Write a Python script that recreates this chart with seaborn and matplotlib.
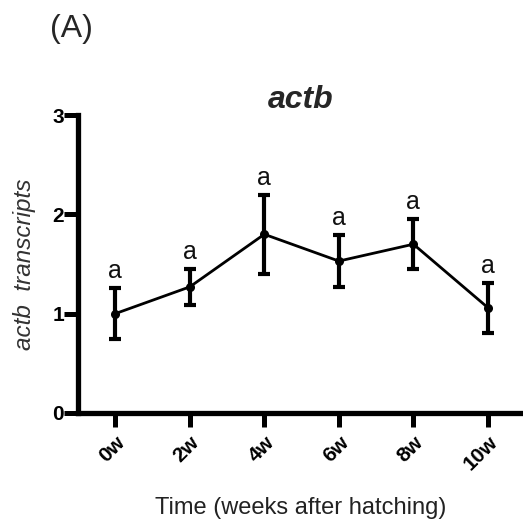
import matplotlib
matplotlib.use("Agg")
import matplotlib.pyplot as plt
import seaborn as sns
import pandas as pd

weeks = ["0w", "2w", "4w", "6w", "8w", "10w"]
means = [1.00, 1.27, 1.80, 1.53, 1.70, 1.06]
errors = [0.26, 0.18, 0.40, 0.26, 0.25, 0.25]
letters = ["a", "a", "a", "a", "a", "a"]
yticks = [0, 1, 2, 3]

sns.set_theme(style="ticks")
plt.rcParams['font.family'] = ['Liberation Sans', 'DejaVu Sans']

df = pd.DataFrame({"week": weeks, "mean": means, "err": errors})

fig = plt.figure(figsize=(5.23, 5.26), dpi=100)
ax = fig.add_axes([0.149, 0.215, 0.851, 0.566])

sns.pointplot(data=df, x="week", y="mean", color="black", errorbar=None,
              markers="o", markersize=5, linewidth=2.0, ax=ax)
ax.errorbar(range(len(weeks)), df["mean"], yerr=df["err"], fmt="none",
            ecolor="black", elinewidth=3, capsize=4.5, capthick=3, zorder=3)

for i, (m, e, l) in enumerate(zip(means, errors, letters)):
    ax.text(i, m + e + 0.10, l, ha="center", va="baseline", fontsize=18, color="#111111")

ax.set_xlim(-0.5, 5.47)
ax.set_ylim(0, 3)
ax.set_yticks(yticks)
ax.set_yticklabels([str(t) for t in yticks], fontweight="bold", fontsize=15)
ax.set_xticks(range(len(weeks)))
ax.set_xticklabels(weeks, rotation=45, ha="right", rotation_mode="anchor",
                   fontweight="bold", fontsize=15)

for s in ["top", "right"]:
    ax.spines[s].set_visible(False)
for s in ["left", "bottom"]:
    ax.spines[s].set_linewidth(3.8)
    ax.spines[s].set_color("black")
ax.tick_params(axis="both", direction="out", length=10, width=3.6, colors="black")
ax.tick_params(axis="y", pad=0)
ax.tick_params(axis="x", pad=4)

ax.set_title("actb", fontsize=23, fontweight="bold", style="italic", pad=3)
ax.set_xlabel("Time (weeks after hatching)", fontsize=17, labelpad=17, color="#222222")
ax.set_ylabel("actb  transcripts", fontsize=17.5, style="italic", labelpad=12, color="#333333")

fig.text(0.095, 0.945, "(A)", fontsize=23, ha="left", va="center")

fig.savefig("out.png", dpi=100)
